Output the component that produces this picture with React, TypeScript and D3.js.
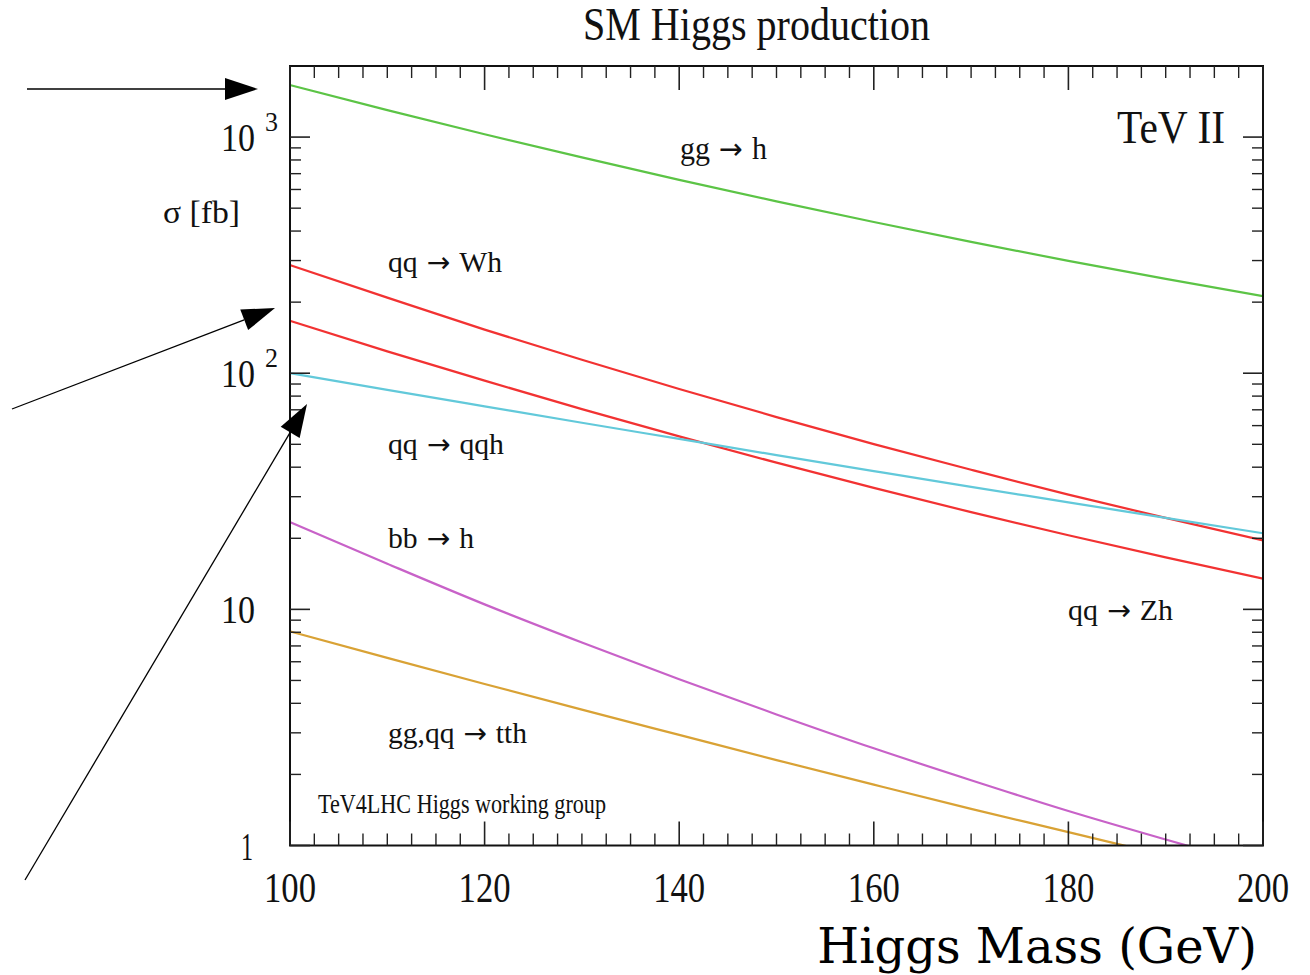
import React from 'react';
import * as d3 from 'd3';

// Higgs mass grid (GeV)
const MASSES = [100, 110, 120, 130, 140, 150, 160, 170, 180, 190, 200];
// cross sections (fb)
const GG_H = [1660, 1301, 1028, 820, 659, 534, 437, 360, 299, 251, 212];
const QQ_WH = [287, 209, 153, 114, 85.8, 65.2, 50.1, 39.0, 30.6, 24.4, 19.6];
const QQ_ZH = [166.6, 123.8, 93.0, 70.5, 54.0, 41.8, 32.7, 25.8, 20.6, 16.6, 13.5];
const QQ_QQH = [100, 85.0, 72.4, 61.7, 52.7, 45.0, 38.5, 33.0, 28.4, 24.4, 21.0];
const BB_H = [23.4, 15.6, 10.5, 7.24, 5.06, 3.59, 2.58, 1.89, 1.4, 1.06, 0.81];
const TTH = [8.07, 6.23, 4.83, 3.76, 2.94, 2.3, 1.81, 1.43, 1.14, 0.905, 0.72];

const SERIES_VALUES = [GG_H, QQ_WH, QQ_ZH, QQ_QQH, BB_H, TTH];
const SERIES_COLORS = ['#5cc446', '#f23232', '#f23232', '#62c9da', '#c862c8', '#d9a235'];

const X_TICKS = [100, 120, 140, 160, 180, 200];
const Y_MAJOR = [1, 10, 100, 1000];
const Y_MAJOR_LABELS = ['1', '10', '10', '10'];
const Y_MAJOR_SUPS = ['', '', '2', '3'];

const TITLE = 'SM Higgs production';
const X_TITLE = 'Higgs Mass (GeV)';
const Y_TITLE = 'σ [fb]';

// process labels: [initial state, final state]
const PROC_LABELS = [
  ['gg', 'h'],
  ['qq', 'Wh'],
  ['qq', 'qqh'],
  ['bb', 'h'],
  ['qq', 'Zh'],
  ['gg,qq', 'tth'],
];

const TIMES = '"Liberation Serif", "Times New Roman", serif';
const ARROW_FONT = '"DejaVu Sans", sans-serif';

const W = 1310;
const H = 975;
const LEFT = 290;
const RIGHT = 1263;
const TOP = 66;
const BOTTOM = 845.5;

function T(props: any) {
  const { x, y, size, len, anchor = 'start', family = TIMES, children } = props;
  return (
    <text
      x={x}
      y={y}
      fontSize={size}
      fontFamily={family}
      textAnchor={anchor}
      textLength={len}
      lengthAdjust={len ? 'spacingAndGlyphs' : undefined}
      fill="#111"
    >
      {children}
    </text>
  );
}

function Proc({ x, y, size, len, label }: any) {
  return (
    <T x={x} y={y} size={size} len={len}>
      {label[0]}
      <tspan fontFamily={ARROW_FONT} fontSize={size * 0.95}>{' → '}</tspan>
      {label[1]}
    </T>
  );
}

function Arrow({ x1, y1, x2, y2 }: any) {
  const ang = Math.atan2(y2 - y1, x2 - x1);
  const hl = 33;
  const hw = 11;
  const bx = x2 - hl * Math.cos(ang);
  const by = y2 - hl * Math.sin(ang);
  const px = -Math.sin(ang) * hw;
  const py = Math.cos(ang) * hw;
  return (
    <g>
      <line x1={x1} y1={y1} x2={bx} y2={by} stroke="#000" strokeWidth={1.3} />
      <polygon points={`${x2},${y2} ${bx + px},${by + py} ${bx - px},${by - py}`} fill="#000" />
    </g>
  );
}

const ARROWS = [
  { x1: 27, y1: 89, x2: 258, y2: 89 },
  { x1: 12, y1: 409, x2: 275, y2: 308 },
  { x1: 25, y1: 880, x2: 307, y2: 404 },
];

// placement of the process labels: [x, baseline, size, width]
const PROC_PLACES = [
  [680, 159, 31, 87],
  [388, 272, 30, 114],
  [388, 454, 30, 116],
  [388, 548, 30, 86],
  [1068, 620, 30, 105],
  [388, 743, 30, 139],
];

export default function App() {
  const x = d3.scaleLinear().domain([100, 200]).range([LEFT, RIGHT]);
  const y = d3.scaleLog().domain([1, 2000]).range([BOTTOM, TOP]);

  const line = d3
    .line<[number, number]>()
    .x((d) => x(d[0]))
    .y((d) => y(d[1]))
    .curve(d3.curveMonotoneX);

  const xMinor = d3.range(100, 200.01, 2.5).filter((m) => Math.abs(m % 20) > 1e-6);
  const yMinor: number[] = [];
  [1, 10, 100].forEach((b) => {
    for (let k = 2; k <= 9; k++) yMinor.push(b * k);
  });

  const tickStroke = '#222';

  return (
    <svg
      width={W}
      height={H}
      style={{ position: 'absolute', left: 0, top: 0, background: '#fff' }}
    >
      <defs>
        <clipPath id="plotclip">
          <rect x={LEFT} y={TOP} width={RIGHT - LEFT} height={BOTTOM - TOP} />
        </clipPath>
      </defs>
      <rect x={0} y={0} width={W} height={H} fill="#fff" />

      {/* title */}
      <T x={583} y={40} size={46} len={347}>{TITLE}</T>

      {/* curves */}
      <g clipPath="url(#plotclip)">
        {SERIES_VALUES.map((vals, i) => (
          <path
            key={i}
            d={line(MASSES.map((m, j) => [m, vals[j]] as [number, number])) || ''}
            fill="none"
            stroke={SERIES_COLORS[i]}
            strokeWidth={2.2}
          />
        ))}
      </g>

      {/* frame */}
      <rect
        x={LEFT}
        y={TOP}
        width={RIGHT - LEFT}
        height={BOTTOM - TOP}
        fill="none"
        stroke="#111"
        strokeWidth={2}
      />

      {/* x ticks bottom & top */}
      {X_TICKS.map((m) => (
        <g key={'xt' + m}>
          <line x1={x(m)} x2={x(m)} y1={BOTTOM} y2={BOTTOM - 24} stroke={tickStroke} strokeWidth={1.6} />
          <line x1={x(m)} x2={x(m)} y1={TOP} y2={TOP + 24} stroke={tickStroke} strokeWidth={1.6} />
          <T x={x(m)} y={902} size={43} len={52} anchor="middle">{String(m)}</T>
        </g>
      ))}
      {xMinor.map((m) => (
        <g key={'xm' + m}>
          <line x1={x(m)} x2={x(m)} y1={BOTTOM} y2={BOTTOM - 12} stroke={tickStroke} strokeWidth={1.4} />
          <line x1={x(m)} x2={x(m)} y1={TOP} y2={TOP + 12} stroke={tickStroke} strokeWidth={1.4} />
        </g>
      ))}

      {/* y ticks left & right */}
      {Y_MAJOR.map((v, i) => (
        <g key={'yt' + v}>
          <line x1={LEFT} x2={LEFT + 20} y1={y(v)} y2={y(v)} stroke={tickStroke} strokeWidth={1.6} />
          <line x1={RIGHT} x2={RIGHT - 20} y1={y(v)} y2={y(v)} stroke={tickStroke} strokeWidth={1.6} />
          <T
            x={Y_MAJOR_LABELS[i] === '1' ? 253 : 255}
            y={y(v) + 14}
            size={39}
            len={Y_MAJOR_LABELS[i] === '1' ? 12 : 34}
            anchor="end"
          >
            {Y_MAJOR_LABELS[i]}
          </T>
          {Y_MAJOR_SUPS[i] && (
            <T x={265} y={y(v) - 6} size={28} len={13}>{Y_MAJOR_SUPS[i]}</T>
          )}
        </g>
      ))}
      {yMinor.map((v) => (
        <g key={'ym' + v}>
          <line x1={LEFT} x2={LEFT + 11} y1={y(v)} y2={y(v)} stroke={tickStroke} strokeWidth={1.4} />
          <line x1={RIGHT} x2={RIGHT - 11} y1={y(v)} y2={y(v)} stroke={tickStroke} strokeWidth={1.4} />
        </g>
      ))}

      {/* y title */}
      <T x={163} y={223} size={32} len={77}>{Y_TITLE}</T>

      {/* in-plot labels */}
      <T x={1117} y={143} size={46} len={108}>TeV II</T>
      {PROC_LABELS.map((lab, i) => (
        <Proc
          key={i}
          x={PROC_PLACES[i][0]}
          y={PROC_PLACES[i][1]}
          size={PROC_PLACES[i][2]}
          len={PROC_PLACES[i][3]}
          label={lab}
        />
      ))}
      <T x={318} y={813} size={27} len={288}>TeV4LHC Higgs working group</T>

      {/* x title */}
      <text x={1257} y={963} fontSize={48} fontFamily='"DejaVu Serif", serif' textAnchor="end" fill="#000">
        {X_TITLE}
      </text>

      {/* arrows */}
      {ARROWS.map((a, i) => (
        <Arrow key={i} {...a} />
      ))}
    </svg>
  );
}
